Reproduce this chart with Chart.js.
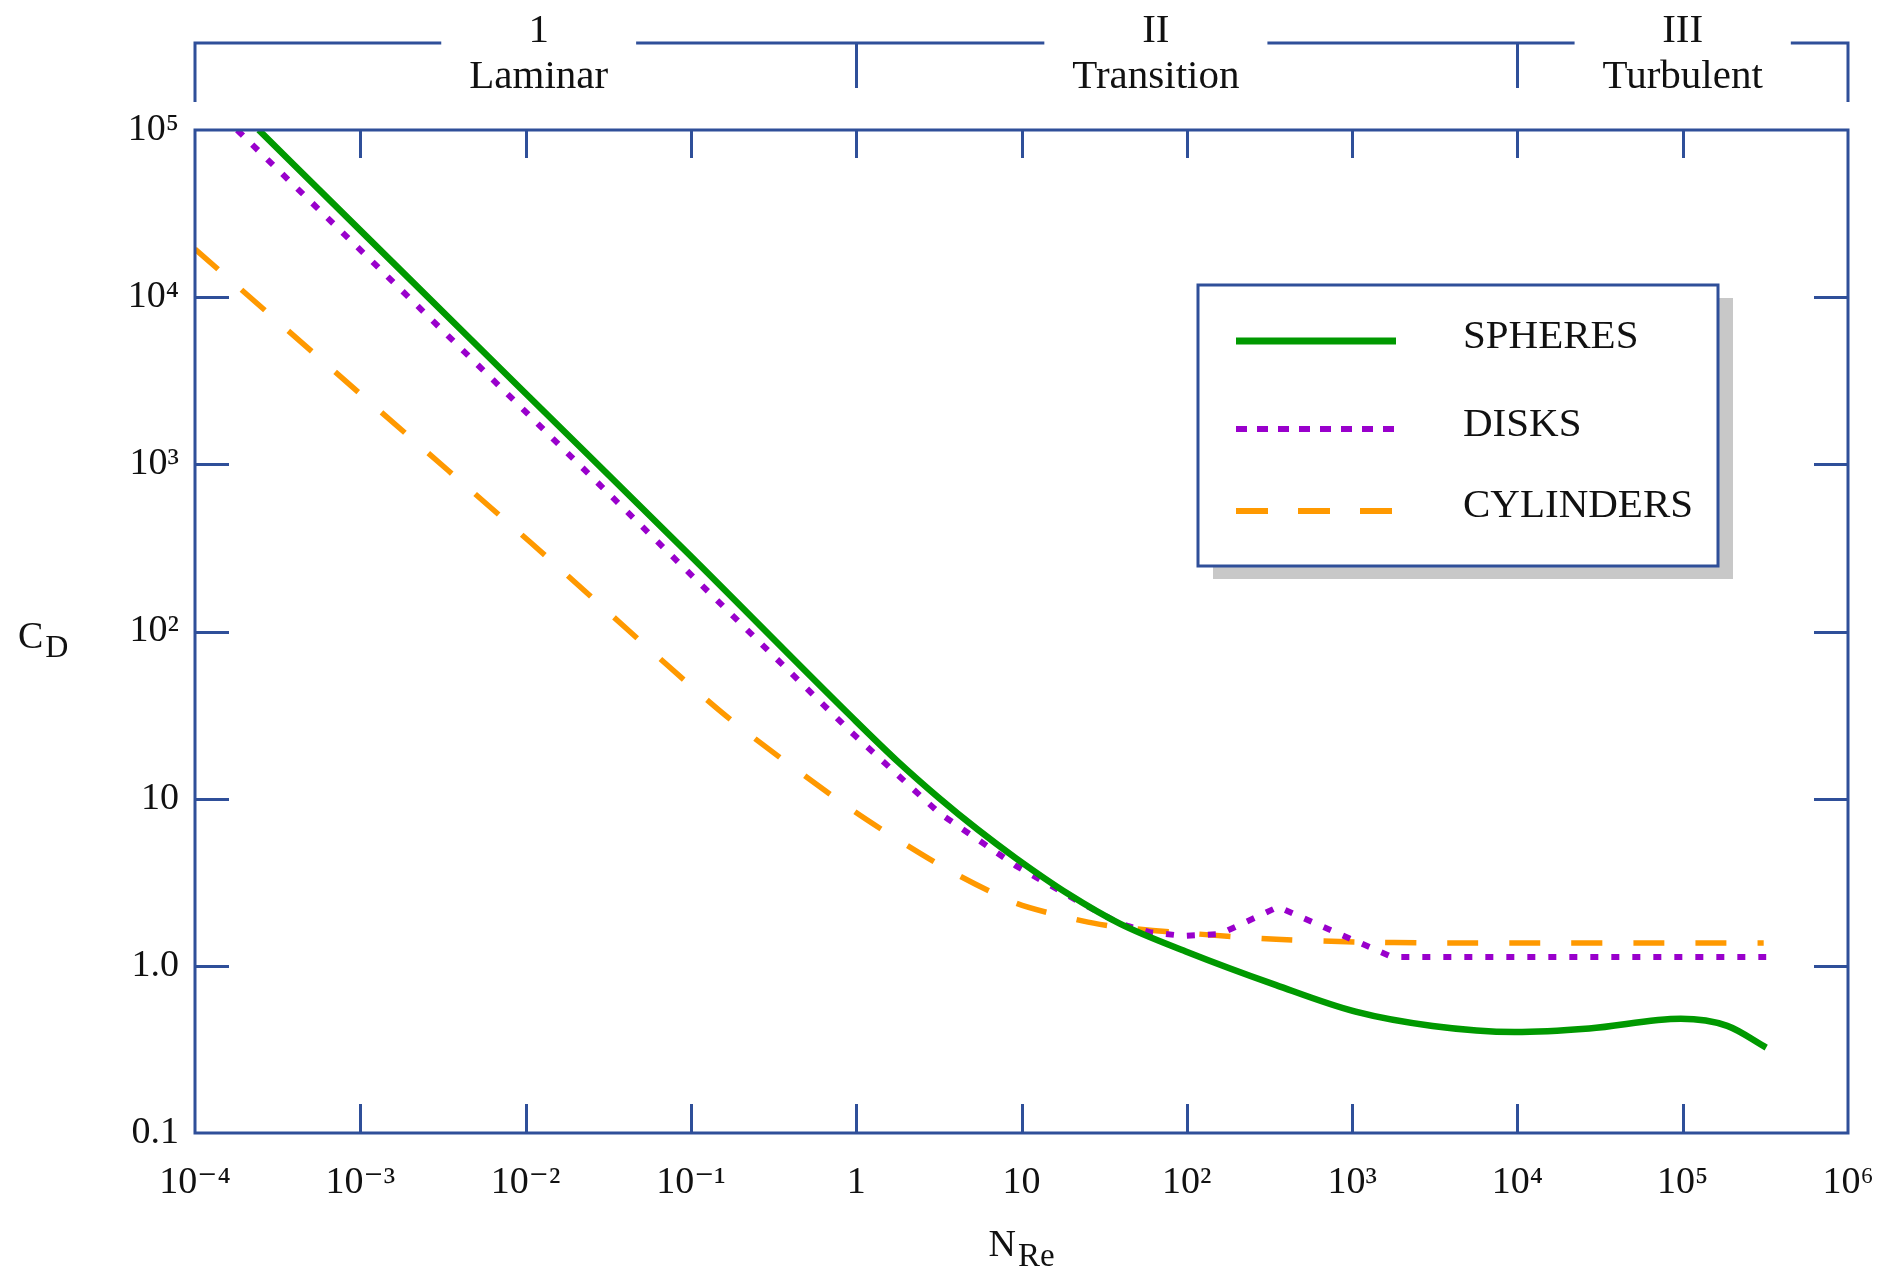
<!DOCTYPE html>
<html><head><meta charset="utf-8">
<script src="https://cdn.jsdelivr.net/npm/chart.js@4/dist/chart.umd.min.js"></script>
<style>html,body{margin:0;padding:0;background:#fff}canvas{display:block}</style>
</head><body>
<canvas id="c" width="1888" height="1272"></canvas>
<script>
// ---------- data ----------
const seriesNames = ['SPHERES', 'DISKS', 'CYLINDERS'];

const spheresRe = [2.43e-4, 1.10e-3, 0.0106, 0.1, 0.933, 1.76, 3.17, 5.42, 9.27, 19.1, 39.3, 98.6, 347, 1050, 3070, 9620, 27200, 97300, 186000, 320000];
const spheresCd = [1e5, 22860, 2510, 282, 31.0, 16.9, 10.1, 6.55, 4.40, 2.70, 1.79, 1.22, 0.767, 0.532, 0.437, 0.402, 0.422, 0.482, 0.437, 0.324];

const disksRe = [1.80e-4, 1.10e-3, 0.0106, 0.1, 0.933, 3.17, 9.27, 23.7, 39.3, 59.8, 94.8, 159, 356, 1742, 320000];
const disksCd = [1e5, 17500, 1950, 219, 25.0, 8.22, 3.96, 2.34, 1.79, 1.59, 1.51, 1.55, 2.25, 1.13, 1.13];

const cylindersRe = [1e-4, 1.10e-3, 0.0106, 0.155, 0.933, 3.17, 9.27, 23.7, 39.3, 98.6, 347, 1050, 3070, 309000];
const cylindersCd = [19400, 2430, 344, 32.6, 8.65, 4.03, 2.37, 1.85, 1.70, 1.57, 1.44, 1.39, 1.37, 1.37];

const xTickValues = [1e-4, 1e-3, 1e-2, 1e-1, 1, 10, 1e2, 1e3, 1e4, 1e5, 1e6];
const xTickLabels = ['10\u207B\u2074', '10\u207B\u00B3', '10\u207B\u00B2', '10\u207B\u00B9', '1', '10', '10\u00B2', '10\u00B3', '10\u2074', '10\u2075', '10\u2076'];
const yTickValues = [0.1, 1, 10, 100, 1e3, 1e4, 1e5];
const yTickLabels = ['0.1', '1.0', '10', '10\u00B2', '10\u00B3', '10\u2074', '10\u2075'];

const regionBounds = [1e-4, 1, 1e4, 1e6];
const regionNumerals = ['1', 'II', 'III'];
const regionNames = ['Laminar', 'Transition', 'Turbulent'];
const regionLabelAt = [0.012, 65, 1e5];

// ---------- styles ----------
const BLUE = '#2f4f99';
const SERIF = '"Liberation Serif", "DejaVu Serif", serif';
const colors = ['#009900', '#9900cc', '#ff9900'];
const widths = [6.5, 6, 5.5];
const dashes = [[], [8, 13], [31, 31]];
const legendDashes = [[], [11, 10], [32, 30]];

function pts(xs, ys) { return xs.map((x, i) => ({ x: x, y: ys[i] })); }

const decorPlugin = {
  id: 'decor',
  afterDraw(chart) {
    const ctx = chart.ctx;
    const a = chart.chartArea;
    const xs = chart.scales.x, ys = chart.scales.y;
    ctx.save();
    ctx.strokeStyle = BLUE;
    ctx.lineWidth = 3;
    ctx.lineCap = 'butt';
    ctx.setLineDash([]);
    // frame
    ctx.strokeRect(a.left, a.top, a.right - a.left, a.bottom - a.top);
    // inward ticks
    ctx.beginPath();
    xTickValues.forEach(v => {
      const px = Math.round(xs.getPixelForValue(v)) + 0.5;
      if (px <= a.left + 2 || px >= a.right - 2) return;
      ctx.moveTo(px, a.bottom); ctx.lineTo(px, a.bottom - 29);
      ctx.moveTo(px, a.top); ctx.lineTo(px, a.top + 28);
    });
    yTickValues.forEach(v => {
      const py = Math.round(ys.getPixelForValue(v)) + 0.5;
      if (py <= a.top + 2 || py >= a.bottom - 2) return;
      ctx.moveTo(a.left, py); ctx.lineTo(a.left + 34, py);
      ctx.moveTo(a.right, py); ctx.lineTo(a.right - 34, py);
    });
    ctx.stroke();

    // region brackets
    const yb = 43;
    ctx.font = '41px ' + SERIF;
    const gaps = regionLabelAt.map((v, i) => {
      const cx = xs.getPixelForValue(v);
      const hw = ctx.measureText(regionNames[i]).width / 2 + 28;
      return [cx - hw, cx + hw];
    });
    ctx.beginPath();
    let start = a.left;
    gaps.forEach(g => { ctx.moveTo(start, yb); ctx.lineTo(g[0], yb); start = g[1]; });
    ctx.moveTo(start, yb); ctx.lineTo(a.right, yb);
    regionBounds.forEach((v, i) => {
      const px = Math.round(xs.getPixelForValue(v)) + 0.5;
      const end = (i === 0 || i === regionBounds.length - 1) ? 102 : 88;
      const x = i === 0 ? a.left : (i === regionBounds.length - 1 ? a.right : px);
      ctx.moveTo(x, yb - 1.5); ctx.lineTo(x, end);
    });
    ctx.stroke();

    ctx.fillStyle = '#111';
    ctx.textAlign = 'center';
    ctx.textBaseline = 'alphabetic';
    regionLabelAt.forEach((v, i) => {
      const cx = xs.getPixelForValue(v);
      ctx.fillText(regionNumerals[i], cx, 42);
      ctx.fillText(regionNames[i], cx, 88);
    });

    // axis titles
    ctx.textAlign = 'left';
    const cy = (a.top + a.bottom) / 2;
    ctx.font = '38px ' + SERIF;
    ctx.fillText('C', 18, cy + 16);
    const cw = ctx.measureText('C').width;
    ctx.font = '32px ' + SERIF;
    ctx.fillText('D', 18 + cw + 2, cy + 25);

    const cxm = (a.left + a.right) / 2;
    ctx.font = '38px ' + SERIF;
    const nw = ctx.measureText('N').width;
    ctx.font = '33px ' + SERIF;
    const rw = ctx.measureText('Re').width;
    const x0 = cxm - (nw + rw + 2) / 2;
    ctx.font = '38px ' + SERIF;
    ctx.fillText('N', x0, 1256);
    ctx.font = '33px ' + SERIF;
    ctx.fillText('Re', x0 + nw + 2, 1266);

    // legend
    const L = { x: 1198, y: 285, w: 520, h: 281 };
    ctx.fillStyle = '#c8c8c8';
    ctx.fillRect(L.x + 15, L.y + 13, L.w, L.h);
    ctx.fillStyle = '#fff';
    ctx.fillRect(L.x, L.y, L.w, L.h);
    ctx.strokeStyle = BLUE;
    ctx.lineWidth = 3;
    ctx.strokeRect(L.x, L.y, L.w, L.h);
    const rowLine = [56, 144, 226];
    const rowText = [63, 151, 232];
    chart.data.datasets.forEach((ds, i) => {
      ctx.save();
      ctx.strokeStyle = ds.borderColor;
      ctx.lineWidth = i === 0 ? 7 : 6;
      ctx.setLineDash(legendDashes[i]);
      ctx.beginPath();
      ctx.moveTo(L.x + 38, L.y + rowLine[i]);
      ctx.lineTo(L.x + 198, L.y + rowLine[i]);
      ctx.stroke();
      ctx.restore();
      ctx.fillStyle = '#111';
      ctx.font = '41px ' + SERIF;
      ctx.fillText(ds.label, L.x + 265, L.y + rowText[i]);
    });
    ctx.restore();
  }
};

new Chart(document.getElementById('c'), {
  type: 'line',
  data: {
    datasets: [
      { label: seriesNames[0], data: pts(spheresRe, spheresCd), borderColor: colors[0], borderWidth: widths[0], borderDash: dashes[0], cubicInterpolationMode: 'monotone', pointRadius: 0, fill: false },
      { label: seriesNames[1], data: pts(disksRe, disksCd), borderColor: colors[1], borderWidth: widths[1], borderDash: dashes[1], tension: 0, pointRadius: 0, fill: false },
      { label: seriesNames[2], data: pts(cylindersRe, cylindersCd), borderColor: colors[2], borderWidth: widths[2], borderDash: dashes[2], tension: 0.25, pointRadius: 0, fill: false }
    ]
  },
  options: {
    responsive: false,
    devicePixelRatio: 1,
    animation: false,
    layout: { padding: { left: 0, top: 130, right: 40, bottom: 0 } },
    plugins: { legend: { display: false }, tooltip: { enabled: false } },
    scales: {
      x: {
        type: 'logarithmic', min: 1e-4, max: 1e6,
        grid: { display: false, drawTicks: false, tickLength: 0 },
        border: { display: false },
        afterBuildTicks: s => { s.ticks = xTickValues.map(v => ({ value: v })); },
        afterFit: s => { s.height = 139; s.paddingLeft = 0; s.paddingRight = 0; },
        ticks: {
          autoSkip: false, maxRotation: 0, minRotation: 0, padding: 27,
          color: '#111', font: { family: SERIF, size: 38 },
          callback: (v) => { const i = xTickValues.indexOf(v); return i >= 0 ? xTickLabels[i] : ''; }
        }
      },
      y: {
        type: 'logarithmic', min: 0.1, max: 1e5,
        grid: { display: false, drawTicks: false, tickLength: 0 },
        border: { display: false },
        afterBuildTicks: s => { s.ticks = yTickValues.map(v => ({ value: v })); },
        afterFit: s => { s.width = 195; s.paddingTop = 0; s.paddingBottom = 0; },
        ticks: {
          autoSkip: false, padding: 16,
          color: '#111', font: { family: SERIF, size: 38 },
          callback: (v) => { const i = yTickValues.indexOf(v); return i >= 0 ? yTickLabels[i] : ''; }
        }
      }
    }
  },
  plugins: [decorPlugin]
});
</script>
</body></html>
